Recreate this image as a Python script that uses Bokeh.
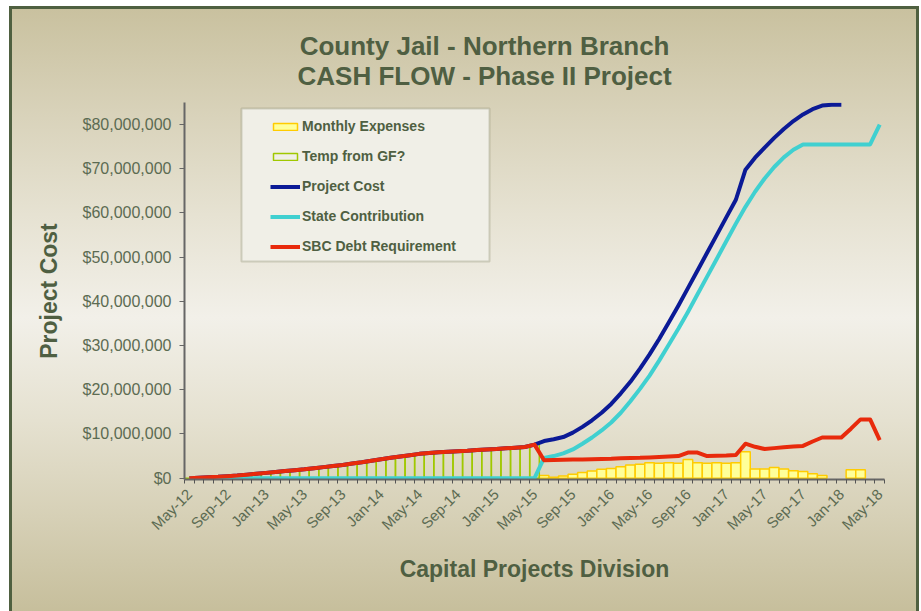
import math
from bokeh.plotting import figure
from bokeh.models import (FixedTicker, NumeralTickFormatter, Range1d, Legend, LegendItem,
                          BoxAnnotation, Title, ColumnDataSource)
from bokeh.embed import file_html
from bokeh.resources import INLINE

M = 1e6
NaN = float("nan")

# ---- data (values in millions of dollars) ----
tick_labels = ["May-12", "Sep-12", "Jan-13", "May-13", "Sep-13", "Jan-14", "May-14",
               "Sep-14", "Jan-15", "May-15", "Sep-15", "Jan-16", "May-16", "Sep-16",
               "Jan-17", "May-17", "Sep-17", "Jan-18", "May-18"]
n_months = 73  # May-12 .. May-18

monthly_expenses = [NaN] * 37 + [
    0.6, 0.2, 0.5, 0.9, 1.3, 1.6, 2.0, 2.2, 2.6, 3.0, 3.15, 3.5, 3.4, 3.5, 3.4, 4.2,
    3.5, 3.4, 3.5, 3.4, 3.5, 6.0, 2.1, 2.1, 2.4, 2.1, 1.7, 1.5, 1.0, 0.6, NaN, NaN,
    1.9, 1.9, NaN, NaN]

temp_from_gf = [0.0, 0.1, 0.2, 0.3, 0.45, 0.6, 0.8, 1.0, 1.2, 1.4, 1.6, 1.8, 2.0, 2.25,
                2.5, 2.75, 3.0, 3.3, 3.6, 3.95, 4.3, 4.6, 4.9, 5.2, 5.5, 5.7, 5.85, 6.0,
                6.1, 6.2, 6.35, 6.5, 6.6, 6.75, 6.9, 7.05, 7.6]

project_cost = [0.0, 0.1, 0.2, 0.3, 0.45, 0.6, 0.8, 1.0, 1.2, 1.4, 1.6, 1.8, 2.0, 2.25,
                2.5, 2.75, 3.0, 3.3, 3.6, 3.95, 4.3, 4.6, 4.9, 5.2, 5.5, 5.7, 5.85, 6.0,
                6.1, 6.2, 6.35, 6.5, 6.6, 6.75, 6.9, 7.05, 7.6,
                8.4, 8.8, 9.3, 10.3, 11.6, 13.1, 14.8, 16.8, 19.2, 21.8, 24.8, 28.0,
                31.5, 35.2, 39.0, 43.0, 47.0, 51.0, 55.0, 59.0, 63.0, 69.8, 72.5, 74.8,
                77.0, 79.0, 80.8, 82.3, 83.5, 84.3, 84.5, 84.5]

state_contribution = [0.0] * 37 + [
    4.6, 5.0, 5.6, 6.5, 7.8, 9.2, 10.8, 12.6, 14.8, 17.4, 20.2, 23.2, 26.6, 30.2,
    33.8, 37.6, 41.6, 45.6, 49.6, 53.6, 57.6, 61.4, 64.8, 67.8, 70.4, 72.6, 74.3,
    75.5, 75.5, 75.5, 75.5, 75.5, 75.5, 75.5, 75.5, 80.0]

sbc_debt = [0.0, 0.1, 0.2, 0.3, 0.45, 0.6, 0.8, 1.0, 1.2, 1.4, 1.6, 1.8, 2.0, 2.25,
            2.5, 2.75, 3.0, 3.3, 3.6, 3.95, 4.3, 4.6, 4.9, 5.2, 5.5, 5.7, 5.85, 6.0,
            6.1, 6.2, 6.35, 6.5, 6.6, 6.75, 6.9, 7.05, 7.6,
            4.05, 4.1, 4.15, 4.2, 4.25, 4.3, 4.35, 4.4, 4.5, 4.55, 4.6, 4.7, 4.8, 4.9,
            5.0, 5.8, 5.8, 5.0, 5.1, 5.15, 5.25, 7.8, 7.1, 6.6, 6.8, 7.0, 7.15, 7.3,
            8.3, 9.2, 9.2, 9.2, 11.2, 13.3, 13.3, 8.6]

y_ticks_m = [0, 10, 20, 30, 40, 50, 60, 70, 80]

# ---- styling ----
TEXT = "#4f5f42"
TICKTXT = "#5c6b52"
FONT = "Liberation Sans"

p = figure(width=921, height=611, output_backend="svg", toolbar_location=None,
           title=None,
           x_range=Range1d(-0.5, 72.5), y_range=Range1d(-0.3 * M, 85 * M),
           min_border_left=184, min_border_right=37, min_border_top=102,
           min_border_bottom=132)
p.background_fill_alpha = 0
p.border_fill_alpha = 0
p.outline_line_color = None
p.xgrid.visible = False
p.ygrid.visible = False
p.styles = {
    "background": ("linear-gradient(to bottom, #c9c19f 0%, #d9d3bb 18%, #e6e2d2 34%, "
                   "#f2f0e9 51%, #e5e1d0 68%, #d6d0b6 84%, #c6be9b 100%) "
                   "12px 9px / 904px 605px no-repeat, "
                   "linear-gradient(#4f6040, #4f6040) 9px 6px / 910px 608px no-repeat, "
                   "#ffffff")
}

months = list(range(n_months))

src_exp = ColumnDataSource(dict(x=months, top=[v * M for v in monthly_expenses]))
r_exp = p.vbar(x="x", top="top", bottom=0, width=1.0, source=src_exp,
               fill_color="#ffff99", line_color="#ffcc00", line_width=1.5)

r_gf = p.vbar(x=list(range(len(temp_from_gf))), top=[v * M for v in temp_from_gf],
              bottom=0, width=1.0, fill_alpha=0, fill_color="#f0efe7",
              line_color="#a0c800", line_width=1.5)

r_pc = p.line(x=list(range(len(project_cost))), y=[v * M for v in project_cost],
              line_color="#0b1a96", line_width=4, line_join="round")
r_sc = p.line(x=list(range(len(state_contribution))), y=[v * M for v in state_contribution],
              line_color="#40d0d0", line_width=4, line_join="round")
r_sbc = p.line(x=list(range(len(sbc_debt))), y=[v * M for v in sbc_debt],
               line_color="#e82a0c", line_width=4, line_join="round")

# ---- axes ----
xa = p.xaxis[0]
tick_pos = list(range(0, n_months, 4))
xa.ticker = FixedTicker(ticks=tick_pos, minor_ticks=[i - 0.5 for i in range(n_months + 1)])
xa.major_label_overrides = {pos: lab for pos, lab in zip(tick_pos, tick_labels)}
xa.major_label_orientation = math.pi / 4
xa.major_tick_line_color = None
xa.major_tick_out = 0
xa.major_tick_in = 0
xa.minor_tick_out = 4
xa.minor_tick_in = 0
xa.minor_tick_line_color = "#555555"
xa.axis_line_color = "#666666"
xa.axis_line_width = 2
xa.major_label_standoff = 8
xa.major_label_text_font = FONT
xa.major_label_text_font_size = "15px"
xa.major_label_text_color = TICKTXT
xa.axis_label = "Capital Projects Division"
xa.axis_label_text_font = FONT
xa.axis_label_text_font_size = "23px"
xa.axis_label_text_font_style = "bold"
xa.axis_label_text_color = TEXT
xa.axis_label_standoff = 14

ya = p.yaxis[0]
ya.ticker = FixedTicker(ticks=[v * M for v in y_ticks_m])
ya.formatter = NumeralTickFormatter(format="$0,0")
ya.major_tick_out = 5
ya.major_tick_in = 0
ya.minor_tick_line_color = None
ya.major_tick_line_color = "#666666"
ya.axis_line_color = "#666666"
ya.axis_line_width = 2
ya.major_label_standoff = 8
ya.major_label_text_font = FONT
ya.major_label_text_font_size = "16px"
ya.major_label_text_color = TICKTXT
ya.axis_label = "Project Cost"
ya.axis_label_text_font = FONT
ya.axis_label_text_font_size = "23px"
ya.axis_label_text_font_style = "bold"
ya.axis_label_text_color = TEXT
ya.axis_label_standoff = 18

# ---- title (two centred lines) ----
title = Title(text="County Jail - Northern Branch\nCASH FLOW - Phase II Project",
              align="left", offset=113, standoff=22, text_line_height=1.01,
              text_font=FONT, text_font_size="26px", text_font_style="bold",
              text_color=TEXT, text_align="center")
p.add_layout(title, "above")

# ---- legend ----
box = BoxAnnotation(left=241, right=489, top=108, bottom=261,
                    left_units="canvas", right_units="canvas",
                    top_units="canvas", bottom_units="canvas",
                    fill_color="#f0efe7", fill_alpha=1.0,
                    line_color="#7f7f5e", line_width=2, level="overlay")
p.add_layout(box)

legend = Legend(items=[
    LegendItem(label="Monthly Expenses", renderers=[r_exp]),
    LegendItem(label="Temp from GF?", renderers=[r_gf]),
    LegendItem(label="Project Cost", renderers=[r_pc]),
    LegendItem(label="State Contribution", renderers=[r_sc]),
    LegendItem(label="SBC Debt Requirement", renderers=[r_sbc]),
], location=(86, 225), padding=0, margin=0, spacing=14,
    glyph_width=30, glyph_height=9, label_height=9, label_standoff=2,
    label_text_font=FONT, label_text_font_size="14px", label_text_font_style="bold",
    label_text_color=TEXT, background_fill_alpha=0, border_line_color=None)
p.add_layout(legend)

open("out.html", "w").write(file_html(p, INLINE))
